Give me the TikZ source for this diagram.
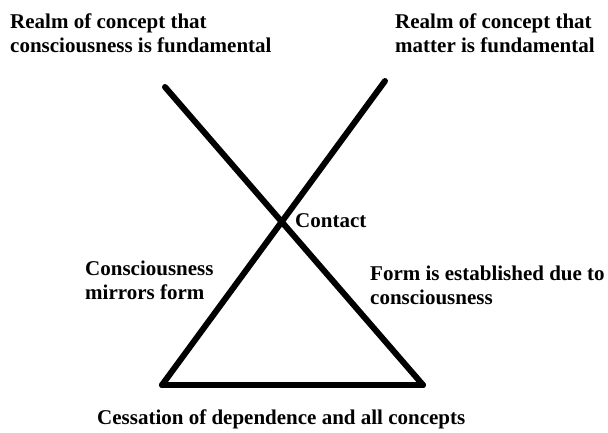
\documentclass[tikz,border=0pt]{standalone}
\usepackage{fontspec}
\setmainfont{Liberation Serif}
\usetikzlibrary{positioning}

\begin{document}
\begin{tikzpicture}[
      x=1pt, y=1pt,
      rotulo/.style={inner sep=0pt, anchor=west, align=left,
                     font=\fontsize{21}{24}\selectfont\bfseries},
      traco/.style={line width=6pt, line cap=round, line join=round}
  ]
      \useasboundingbox (0,0) rectangle (608,433);

      % --- EXTREMOS ---
      \coordinate (topoesq) at (165,346);
      \coordinate (topodir) at (385,352);
      \coordinate (baseesq) at (162,48);
      \coordinate (basedir) at (423,48);

      % --- LINHAS ---
      \draw[traco] (topoesq) -- (basedir);
      \draw[traco] (topodir) -- (baseesq);
      \draw[traco] (baseesq) -- (basedir);

      % --- TEXTOS ---
      \node[rotulo] (consc) at (10,400)  {Realm of concept that\\consciousness is fundamental};
      \node[rotulo] (mat)   at (395,400) {Realm of concept that\\matter is fundamental};
      \node[rotulo] (cont)  at (295,212) {Contact};
      \node[rotulo] (espe)  at (85,153)  {Consciousness\\mirrors form};
      \node[rotulo] (forma) at (370,148) {Form is established due to\\consciousness};
      \node[rotulo] (cess)  at (97,14)   {Cessation of dependence and all concepts};
  \end{tikzpicture}
\end{document}
